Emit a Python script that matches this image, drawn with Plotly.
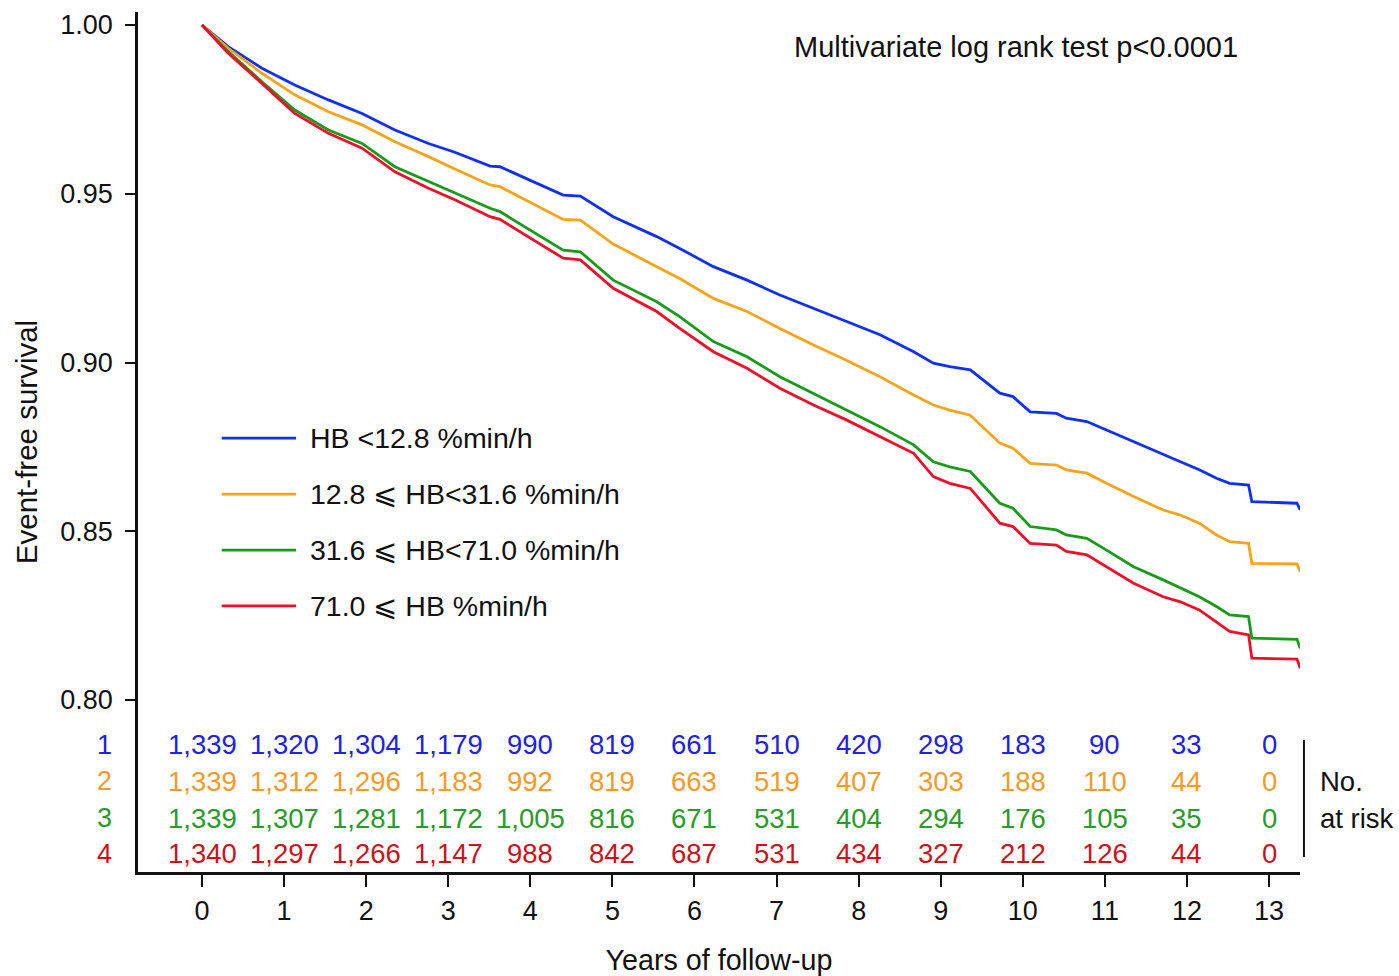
import plotly.graph_objects as go

# ---------------- data ----------------
years = [0, 0.32, 0.73, 1.13, 1.54, 1.95, 2.35, 2.76, 3.08, 3.51, 3.63, 4.40, 4.61, 5.01,
         5.54, 5.82, 6.23, 6.64, 7.04, 7.45, 7.85, 8.26, 8.67, 8.91, 9.11, 9.36, 9.72,
         9.88, 10.09, 10.41, 10.53, 10.78, 11.02, 11.35, 11.71, 11.92, 12.15, 12.36,
         12.52, 12.75, 12.79, 13.34, 13.38]

surv_g1 = [1.000, 0.9936, 0.9872, 0.9822, 0.9778, 0.9738, 0.9689, 0.9649, 0.9623, 0.9582,
           0.9580, 0.9496, 0.9493, 0.9432, 0.9373, 0.9338, 0.9284, 0.9244, 0.9200, 0.9161,
           0.9121, 0.9082, 0.9032, 0.8998, 0.8988, 0.8978, 0.8909, 0.8899, 0.8854, 0.8849,
           0.8835, 0.8825, 0.8800, 0.8765, 0.8726, 0.8706, 0.8682, 0.8657, 0.8642, 0.8637,
           0.8588, 0.8583, 0.8563]
surv_g2 = [1.000, 0.9931, 0.9857, 0.9793, 0.9743, 0.9704, 0.9654, 0.9610, 0.9573, 0.9526,
           0.9521, 0.9424, 0.9422, 0.9351, 0.9284, 0.9249, 0.9190, 0.9151, 0.9101, 0.9052,
           0.9007, 0.8958, 0.8904, 0.8874, 0.8859, 0.8844, 0.8761, 0.8746, 0.8701, 0.8696,
           0.8682, 0.8672, 0.8642, 0.8603, 0.8563, 0.8548, 0.8524, 0.8489, 0.8469, 0.8464,
           0.8405, 0.8403, 0.8380]
surv_g3 = [1.000, 0.9921, 0.9832, 0.9748, 0.9689, 0.9649, 0.9580, 0.9536, 0.9501, 0.9457,
           0.9447, 0.9333, 0.9328, 0.9244, 0.9180, 0.9136, 0.9062, 0.9017, 0.8958, 0.8909,
           0.8859, 0.8810, 0.8756, 0.8706, 0.8691, 0.8677, 0.8583, 0.8568, 0.8514, 0.8504,
           0.8489, 0.8479, 0.8444, 0.8395, 0.8356, 0.8331, 0.8306, 0.8277, 0.8252, 0.8247,
           0.8183, 0.8180, 0.8153]
surv_g4 = [1.000, 0.9916, 0.9827, 0.9738, 0.9679, 0.9635, 0.9565, 0.9516, 0.9482, 0.9432,
           0.9424, 0.9309, 0.9304, 0.9220, 0.9151, 0.9101, 0.9032, 0.8983, 0.8924, 0.8874,
           0.8830, 0.8780, 0.8731, 0.8662, 0.8642, 0.8627, 0.8524, 0.8514, 0.8464, 0.8459,
           0.8440, 0.8430, 0.8395, 0.8346, 0.8306, 0.8291, 0.8267, 0.8232, 0.8203, 0.8193,
           0.8124, 0.8121, 0.8094]

group_names = ["HB <12.8 %min/h", "12.8 \u2a7d HB<31.6 %min/h",
               "31.6 \u2a7d HB<71.0 %min/h", "71.0 \u2a7d HB %min/h"]
group_ids = ["1", "2", "3", "4"]
line_colors = ["#1030f0", "#f5a41c", "#1a9a1a", "#ec1028"]
text_colors = ["#2222d8", "#f29a2a", "#2a9a2a", "#c8141c"]

risk_years = list(range(0, 14))
risk_g1 = ["1,339", "1,320", "1,304", "1,179", "990", "819", "661", "510", "420", "298", "183", "90", "33", "0"]
risk_g2 = ["1,339", "1,312", "1,296", "1,183", "992", "819", "663", "519", "407", "303", "188", "110", "44", "0"]
risk_g3 = ["1,339", "1,307", "1,281", "1,172", "1,005", "816", "671", "531", "404", "294", "176", "105", "35", "0"]
risk_g4 = ["1,340", "1,297", "1,266", "1,147", "988", "842", "687", "531", "434", "327", "212", "126", "44", "0"]

y_ticks = [0.80, 0.85, 0.90, 0.95, 1.00]
x_ticks = list(range(0, 14))

# ---------------- figure ----------------
FONT = "Liberation Sans, Arial, Helvetica, sans-serif"
INK = "#111111"
fig = go.Figure()
survs = [surv_g1, surv_g2, surv_g3, surv_g4]
risks = [risk_g1, risk_g2, risk_g3, risk_g4]

for name, s, c in zip(group_names, survs, line_colors):
    fig.add_trace(go.Scatter(x=years, y=s, mode="lines", name=name,
                             line=dict(color=c, width=2.8), showlegend=False))

annotations = []
shapes = []

# legend (drawn manually)
leg_y = [0.8776, 0.8610, 0.8444, 0.8279]
for name, c, ly in zip(group_names, line_colors, leg_y):
    shapes.append(dict(type="line", xref="x", yref="y", x0=0.24, x1=1.145, y0=ly, y1=ly,
                       line=dict(color=c, width=2.8)))
    annotations.append(dict(x=1.29, y=ly, xref="x", yref="y", text=name, showarrow=False,
                            xanchor="left", yanchor="middle",
                            font=dict(size=28.5, color=INK, family=FONT)))

# number at risk table
row_y = [0.7867, 0.7760, 0.7650, 0.7544]
for gid, r, tc, ry in zip(group_ids, risks, text_colors, row_y):
    annotations.append(dict(x=-0.0284, y=ry, xref="paper", yref="y", text=gid, showarrow=False,
                            xanchor="center", yanchor="middle",
                            font=dict(size=27, color=tc, family=FONT)))
    for xv, val in zip(risk_years, r):
        annotations.append(dict(x=xv, y=ry, xref="x", yref="y", text=val, showarrow=False,
                                xanchor="center", yanchor="middle",
                                font=dict(size=27.5, color=tc, family=FONT)))

shapes.append(dict(type="line", xref="paper", yref="paper", x0=1.0034, x1=1.0034,
                   y0=0.1535, y1=0.0174, line=dict(color=INK, width=2)))
annotations.append(dict(x=1.0155, y=0.7760, xref="paper", yref="y", text="No.", showarrow=False,
                        xanchor="left", yanchor="middle",
                        font=dict(size=27.5, color=INK, family=FONT)))
annotations.append(dict(x=1.0155, y=0.7650, xref="paper", yref="y", text="at risk", showarrow=False,
                        xanchor="left", yanchor="middle",
                        font=dict(size=27.5, color=INK, family=FONT)))

annotations.append(dict(x=9.92, y=0.9935, xref="x", yref="y",
                        text="Multivariate log rank test p<0.0001", showarrow=False,
                        xanchor="center", yanchor="middle",
                        font=dict(size=29, color=INK, family=FONT)))

fig.update_layout(
    width=1399, height=976,
    margin=dict(l=138, r=99, t=12, b=104, autoexpand=False),
    plot_bgcolor="white", paper_bgcolor="white",
    font=dict(family=FONT, size=27, color=INK),
    showlegend=False,
    annotations=annotations,
    shapes=shapes,
)
fig.update_xaxes(range=[-0.7797, 13.377], tickvals=x_ticks, ticktext=[str(v) for v in x_ticks],
                 showgrid=False, zeroline=False, showline=True, linecolor=INK, linewidth=2.5,
                 ticks="outside", ticklen=12, tickwidth=2.2, tickcolor=INK, automargin=False,
                 ticklabelstandoff=1,
                 tickfont=dict(size=27, family=FONT, color=INK),
                 title=dict(text="Years of follow-up", font=dict(size=28.7, family=FONT, color=INK),
                            standoff=26))
fig.update_yaxes(range=[0.74904, 1.00385], tickvals=y_ticks,
                 ticktext=["0.80", "0.85", "0.90", "0.95", "1.00"],
                 showgrid=False, zeroline=False, showline=True, linecolor=INK, linewidth=2.5,
                 ticks="outside", ticklen=10, tickwidth=2.2, tickcolor=INK, automargin=False,
                 ticklabelstandoff=7,
                 tickfont=dict(size=27, family=FONT, color=INK),
                 title=dict(text="Event-free survival", font=dict(size=29.5, family=FONT, color=INK),
                            standoff=14))

fig.write_html("out.html")
